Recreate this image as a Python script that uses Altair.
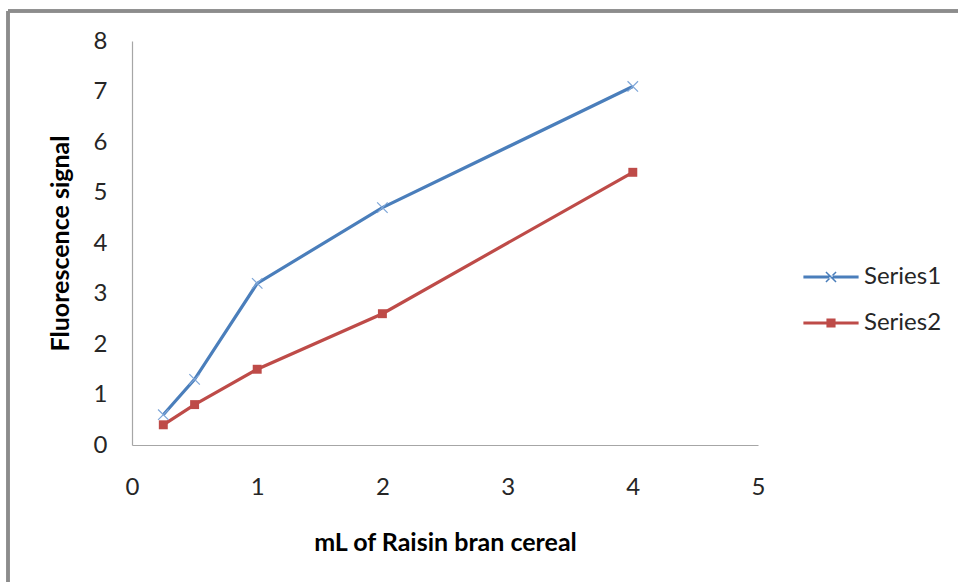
import altair as alt
import pandas as pd

# Fluorescence readings against volume of cereal extract
ml = [0.25, 0.5, 1, 2, 4]
series1 = [0.6, 1.3, 3.2, 4.7, 7.1]
series2 = [0.4, 0.8, 1.5, 2.6, 5.4]
names = ["Series1", "Series2"]
line_colors = ["#4a7ebb", "#be4b48"]
x_ticks = [0, 1, 2, 3, 4, 5]
y_ticks = [0, 1, 2, 3, 4, 5, 6, 7, 8]

df = pd.DataFrame({
    "ml": ml + ml,
    "signal": series1 + series2,
    "series": [names[0]] * len(ml) + [names[1]] * len(ml),
})

FONT = "Lato"

# Legend glyphs: a thick horizontal stroke with the series marker in the middle
# (paths are in symbol units; one unit = sqrt(size)/2 pixels)
def _rect(x0, y0, x1, y1):
    return f"M{x0},{y0}L{x1},{y0}L{x1},{y1}L{x0},{y1}Z"

a, d = 0.21, 0.022
cross = (
    f"M{-a + d},{-a - d}L{a + d},{a - d}L{a - d},{a + d}L{-a - d},{-a + d}Z"
    f"M{-a + d},{a + d}L{a + d},{-a + d}L{a - d},{-a - d}L{-a - d},{a - d}Z"
)
bar = _rect(-1.15, -0.0625, 1.15, 0.0625)
legend_shapes = [bar + cross, bar + _rect(-0.19, -0.19, 0.19, 0.19)]
LEGEND_SIZE = 48 * 48

x_enc = alt.X(
    "ml:Q",
    scale=alt.Scale(domain=[0, 5], nice=False, zero=False),
    axis=alt.Axis(
        values=x_ticks, format="d", labelFlush=False,
        title="mL of Raisin bran cereal", grid=False, ticks=False,
        domainColor="#a6a6a6", domainWidth=1.2, labelPadding=30,
        labelFont=FONT, labelFontSize=24, labelColor="#262626",
        titleFont=FONT, titleFontSize=25, titleFontWeight="bold",
        titleColor="#000000", titlePadding=31,
    ),
)
y_enc = alt.Y(
    "signal:Q",
    scale=alt.Scale(domain=[0, 8], nice=False),
    axis=alt.Axis(
        values=y_ticks, format="d", labelFlush=False,
        title="Fluorescence signal", grid=False, ticks=False,
        domainColor="#a6a6a6", domainWidth=1.2, labelPadding=25,
        labelFont=FONT, labelFontSize=24, labelColor="#262626",
        titleFont=FONT, titleFontSize=25, titleFontWeight="bold",
        titleColor="#000000", titlePadding=20,
    ),
)
color_enc = alt.Color(
    "series:N",
    scale=alt.Scale(domain=names, range=line_colors),
    legend=alt.Legend(
        title=None, orient="none", legendX=675, legendY=212,
        labelFont=FONT, labelFontSize=24, labelColor="#262626",
        labelOffset=9, rowPadding=10, symbolSize=LEGEND_SIZE,
        symbolStrokeWidth=0,
    ),
)

base = alt.Chart(df)

lines = base.mark_line(strokeWidth=3.2).encode(x=x_enc, y=y_enc, color=color_enc)

markers1 = base.transform_filter(alt.datum.series == names[0]).mark_point(
    shape="M-1,-1L1,1M-1,1L1,-1", size=110, filled=False,
    strokeWidth=1.2, color="#7ea6d8", opacity=1,
).encode(x="ml:Q", y="signal:Q")

markers2 = base.transform_filter(alt.datum.series == names[1]).mark_point(
    shape="square", size=80, filled=True, color="#be4b48", opacity=1,
).encode(x="ml:Q", y="signal:Q")

legend_layer = base.transform_filter("false").mark_point(
    filled=True, size=LEGEND_SIZE, opacity=1,
).encode(
    x="ml:Q", y="signal:Q", color=color_enc,
    shape=alt.Shape("series:N", scale=alt.Scale(domain=names, range=legend_shapes)),
)

# Outer chart-area frame (top and left edges)
frame_top = alt.Chart(df).mark_rule(color="#8c8c8c", strokeWidth=2.5, clip=False).encode(
    x=alt.value(-124), x2=alt.value(830), y=alt.value(-30)
)
frame_left = alt.Chart(df).mark_rule(color="#8c8c8c", strokeWidth=2.5, clip=False).encode(
    x=alt.value(-124), y=alt.value(-30), y2=alt.value(545)
)

chart = alt.layer(
    lines, markers1, markers2, legend_layer, frame_top, frame_left
).properties(
    width=626, height=404,
    padding={"left": 132, "top": 41, "right": 200, "bottom": 137},
    autosize=alt.AutoSizeParams(type="none"),
    background="#ffffff",
).configure_view(stroke=None)

chart.save("out.html", embed_options={"renderer": "svg", "actions": False})
